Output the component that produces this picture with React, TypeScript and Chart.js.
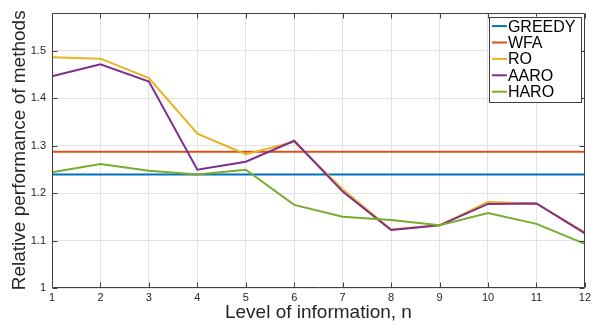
import React, { useEffect, useRef } from 'react';
import { Chart, registerables } from 'chart.js';

Chart.register(...registerables);

const LEVELS = ['1', '2', '3', '4', '5', '6', '7', '8', '9', '10', '11', '12'];
const Y_TICKS = [1, 1.1, 1.2, 1.3, 1.4, 1.5];
const Y_MIN = 1;
const Y_MAX = 1.58;

const GREEDY = [1.239, 1.239, 1.239, 1.239, 1.239, 1.239, 1.239, 1.239, 1.239, 1.239, 1.239, 1.239];
const WFA = [1.287, 1.287, 1.287, 1.287, 1.287, 1.287, 1.287, 1.287, 1.287, 1.287, 1.287, 1.287];
const RO = [1.486, 1.483, 1.442, 1.325, 1.282, 1.308, 1.208, 1.123, 1.132, 1.181, 1.178, 1.117];
const AARO = [1.446, 1.471, 1.435, 1.249, 1.266, 1.31, 1.203, 1.122, 1.132, 1.177, 1.178, 1.115];
const HARO = [1.244, 1.261, 1.247, 1.239, 1.249, 1.175, 1.15, 1.143, 1.132, 1.158, 1.135, 1.093];

const SERIES_NAMES = ['GREEDY', 'WFA', 'RO', 'AARO', 'HARO'];
const SERIES_DATA = [GREEDY, WFA, RO, AARO, HARO];
const COLORS = ['#0072BD', '#D95319', '#EDB120', '#7E2F8E', '#77AC30'];

const FONT = "'Liberation Sans', Arial, Helvetica, sans-serif";
const AXIS_COLOR = '#404040';

const boxPlugin = {
  id: 'matlabBox',
  afterDatasetsDraw(chart: any) {
    const { ctx, chartArea, scales } = chart;
    const { left, right, top, bottom } = chartArea;
    const L = Math.round(left) + 0.5;
    const R = Math.round(right) - 0.5;
    const T = Math.round(top) + 0.5;
    const B = Math.round(bottom) - 0.5;
    ctx.save();
    ctx.strokeStyle = AXIS_COLOR;
    ctx.lineWidth = 1;
    ctx.beginPath();
    ctx.rect(L, T, R - L, B - T);
    const tl = 5;
    LEVELS.forEach((_, i) => {
      const px = Math.round(scales.x.getPixelForValue(i)) + 0.5;
      ctx.moveTo(px, B);
      ctx.lineTo(px, B - tl);
      ctx.moveTo(px, T);
      ctx.lineTo(px, T + tl);
    });
    Y_TICKS.forEach((v) => {
      const py = Math.round(scales.y.getPixelForValue(v)) + 0.5;
      ctx.moveTo(L, py);
      ctx.lineTo(L + tl, py);
      ctx.moveTo(R, py);
      ctx.lineTo(R - tl, py);
    });
    ctx.stroke();
    ctx.restore();
  },
  afterDraw(chart: any) {
    const { ctx, chartArea } = chart;
    const boxRight = chartArea.right - 4;
    const boxTop = chartArea.top + 4;
    const boxW = 92;
    const boxH = 85;
    const boxLeft = boxRight - boxW;
    ctx.save();
    ctx.fillStyle = '#ffffff';
    ctx.fillRect(boxLeft, boxTop, boxW, boxH);
    ctx.strokeStyle = AXIS_COLOR;
    ctx.lineWidth = 1;
    ctx.strokeRect(Math.round(boxLeft) + 0.5, Math.round(boxTop) + 0.5, boxW, boxH);
    ctx.font = `16px ${FONT}`;
    ctx.textBaseline = 'middle';
    ctx.textAlign = 'left';
    const rowH = 16.4;
    SERIES_NAMES.forEach((name, i) => {
      const cy = boxTop + 9.5 + i * rowH;
      ctx.strokeStyle = COLORS[i];
      ctx.lineWidth = 2;
      ctx.beginPath();
      ctx.moveTo(boxLeft + 3, cy);
      ctx.lineTo(boxLeft + 18, cy);
      ctx.stroke();
      ctx.fillStyle = '#000000';
      ctx.fillText(name, boxLeft + 19, cy + 1);
    });
    ctx.restore();
  },
};

export default function App() {
  const canvasRef = useRef<HTMLCanvasElement | null>(null);

  useEffect(() => {
    const canvas = canvasRef.current;
    if (!canvas) return;
    const chart = new Chart(canvas, {
      type: 'line',
      data: {
        labels: LEVELS,
        datasets: SERIES_NAMES.map((name, i) => ({
          label: name,
          data: SERIES_DATA[i],
          borderColor: COLORS[i],
          backgroundColor: COLORS[i],
          borderWidth: 2,
          pointRadius: 0,
          tension: 0,
          fill: false,
          order: SERIES_NAMES.length - i,
        })),
      },
      options: {
        animation: false,
        responsive: false,
        devicePixelRatio: 1,
        layout: { padding: { top: 8, right: 7, left: 0, bottom: 0 } },
        plugins: {
          legend: { display: false },
          tooltip: { enabled: false },
        },
        scales: {
          x: {
            type: 'category',
            offset: false,
            border: { display: false },
            grid: { color: '#e3e3e3', lineWidth: 1, drawTicks: false },
            ticks: {
              color: '#262626',
              font: { family: FONT, size: 11 },
              padding: 3,
              maxRotation: 0,
              autoSkip: false,
            },
            title: {
              display: true,
              text: 'Level of information, n',
              color: '#262626',
              font: { family: FONT, size: 19 },
              padding: { top: 0, bottom: 5 },
            },
            afterFit(scale: any) {
              scale.height = 41;
            },
          },
          y: {
            type: 'linear',
            min: Y_MIN,
            max: Y_MAX,
            border: { display: false },
            grid: { color: '#e3e3e3', lineWidth: 1, drawTicks: false },
            ticks: {
              color: '#262626',
              font: { family: FONT, size: 11 },
              padding: 6,
              callback: (v: any) => String(Math.round(Number(v) * 10) / 10),
            },
            afterBuildTicks(scale: any) {
              scale.ticks = Y_TICKS.map((v) => ({ value: v }));
            },
            title: {
              display: true,
              text: 'Relative performance of methods',
              color: '#262626',
              font: { family: FONT, size: 19 },
              padding: { top: 8, bottom: 0 },
            },
            afterFit(scale: any) {
              scale.width = 52;
            },
          },
        },
      },
      plugins: [boxPlugin],
    });
    return () => chart.destroy();
  }, []);

  return (
    <div style={{ position: 'absolute', left: 0, top: 0, width: 594, height: 329, background: '#ffffff' }}>
      <canvas ref={canvasRef} width={594} height={329} style={{ width: 594, height: 329, display: 'block' }} />
    </div>
  );
}
